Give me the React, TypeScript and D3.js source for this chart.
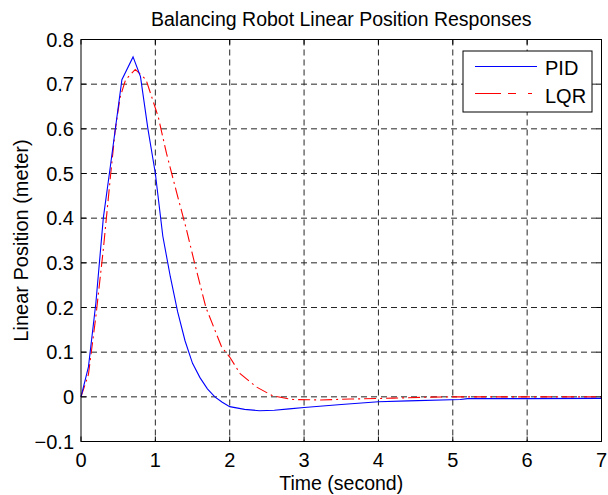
import React from "react";
import * as d3 from "d3";

// PID response (time in s, position in m)
const pidT = [0, 0.1, 0.2, 0.3, 0.39, 0.55, 0.7, 0.8, 0.9, 1.0, 1.1, 1.2, 1.3, 1.4, 1.5, 1.6, 1.7, 1.8, 1.9, 2.0, 2.2, 2.4, 2.6, 2.8, 3.0, 3.5, 4.0, 4.4, 5.1, 5.2, 6.0, 7.0];
const pidY = [0, 0.067, 0.21, 0.4, 0.51, 0.71, 0.761, 0.717, 0.6, 0.5, 0.36, 0.27, 0.19, 0.125, 0.075, 0.043, 0.018, 0.0, -0.012, -0.022, -0.028, -0.031, -0.03, -0.027, -0.024, -0.017, -0.011, -0.009, -0.006, -0.004, -0.004, -0.0035];

// LQR response
const lqrT = [0, 0.1, 0.2, 0.3, 0.4, 0.46, 0.525, 0.6, 0.73, 0.875, 1.04, 1.15, 1.29, 1.41, 1.53, 1.68, 1.89, 2.0, 2.14, 2.36, 2.58, 2.85, 3.2, 3.62, 4.2, 4.6, 5.0, 6.0, 7.0];
const lqrY = [0, 0.05, 0.18, 0.33, 0.5, 0.597, 0.67, 0.71, 0.733, 0.71, 0.626, 0.545, 0.455, 0.38, 0.298, 0.2, 0.112, 0.089, 0.052, 0.022, 0.002, -0.006, -0.007, -0.005, -0.003, -0.001, 0, 0, 0];

const xTicks = [0, 1, 2, 3, 4, 5, 6, 7];
const yTicks = [-0.1, 0, 0.1, 0.2, 0.3, 0.4, 0.5, 0.6, 0.7, 0.8];
const seriesNames = ["PID", "LQR"];

const W = 608;
const H = 495;
const left = 81;
const right = 601.5;
const top = 39.5;
const bottom = 441.5;
const font = "'Liberation Sans', Arial, sans-serif";

export default function App() {
  const x = d3.scaleLinear().domain([0, 7]).range([left, right]);
  const y = d3.scaleLinear().domain([-0.1, 0.8]).range([bottom, top]);

  const line = d3
    .line<[number, number]>()
    .x((d) => x(d[0]))
    .y((d) => y(d[1]));

  const pid = line(pidT.map((t, i) => [t, pidY[i]]));
  const lqr = line(lqrT.map((t, i) => [t, lqrY[i]]));

  const tickLen = 5;
  const lqrDash = "12,4,2,4";

  return (
    <svg
      width={W}
      height={H}
      style={{ position: "absolute", left: 0, top: 0, background: "#fff" }}
      fontFamily={font}
    >
      <rect x={0} y={0} width={W} height={H} fill="#fff" />

      {/* grid */}
      <g stroke="#000" strokeWidth={1} strokeDasharray="6,4" opacity={0.85}>
        {xTicks.slice(1, -1).map((t) => (
          <line key={"gx" + t} x1={x(t)} x2={x(t)} y1={top} y2={bottom} />
        ))}
        {yTicks.slice(1).map((t) => (
          <line key={"gy" + t} x1={left} x2={right} y1={y(t)} y2={y(t)} />
        ))}
      </g>

      {/* curves */}
      <path d={lqr || ""} fill="none" stroke="#ff0000" strokeWidth={1.1} strokeDasharray={lqrDash} />
      <path d={pid || ""} fill="none" stroke="#0000ff" strokeWidth={1.1} />

      {/* box and ticks */}
      <rect x={left} y={top} width={right - left} height={bottom - top} fill="none" stroke="#000" strokeWidth={1} />
      <g stroke="#000" strokeWidth={1}>
        {xTicks.map((t) => (
          <g key={"tx" + t}>
            <line x1={x(t)} x2={x(t)} y1={bottom} y2={bottom - tickLen} />
            <line x1={x(t)} x2={x(t)} y1={top} y2={top + tickLen} />
          </g>
        ))}
        {yTicks.map((t) => (
          <g key={"ty" + t}>
            <line x1={left} x2={left + tickLen} y1={y(t)} y2={y(t)} />
            <line x1={right} x2={right - tickLen} y1={y(t)} y2={y(t)} />
          </g>
        ))}
      </g>

      {/* tick labels */}
      <g fontSize={20} fill="#000">
        {xTicks.map((t) => (
          <text key={"lx" + t} x={x(t)} y={467} textAnchor="middle">
            {t}
          </text>
        ))}
        {yTicks.map((t) => (
          <text key={"ly" + t} x={74} y={y(t) + 7} textAnchor="end">
            {d3.format("~g")(+t.toFixed(1))}
          </text>
        ))}
      </g>

      {/* title and axis labels */}
      <text x={(left + right) / 2} y={26} textAnchor="middle" fontSize={19.5}>
        Balancing Robot Linear Position Responses
      </text>
      <text x={(left + right) / 2} y={490} textAnchor="middle" fontSize={19.5}>
        Time (second)
      </text>
      <text transform={`translate(28,${(top + bottom) / 2}) rotate(-90)`} textAnchor="middle" fontSize={20}>
        Linear Position (meter)
      </text>

      {/* legend */}
      <g>
        <rect x={463} y={51} width={129} height={61} fill="#fff" stroke="#000" strokeWidth={1} />
        {seriesNames.map((name, i) => (
          <g key={name}>
            <line
              x1={475}
              x2={537}
              y1={66.5 + i * 27}
              y2={66.5 + i * 27}
              stroke={i === 0 ? "#0000ff" : "#ff0000"}
              strokeWidth={1.1}
              strokeDasharray={i === 0 ? undefined : "26,7,8,12,4"}
            />
            <text x={545} y={75 + i * 28} fontSize={20}>
              {name}
            </text>
          </g>
        ))}
      </g>
    </svg>
  );
}
